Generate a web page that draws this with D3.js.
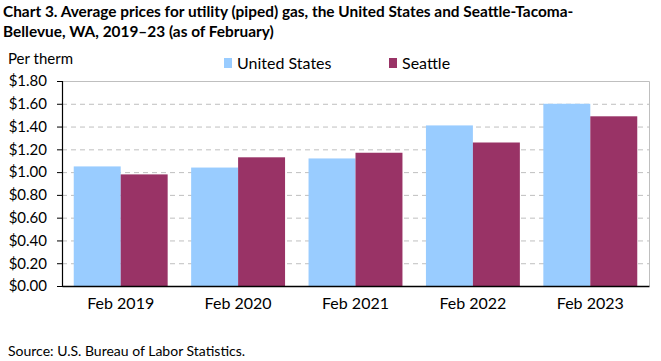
<!DOCTYPE html>
<html lang="en">
<head>
<meta charset="UTF-8">
<title>Chart 3</title>
<script src="https://d3js.org/d3.v7.min.js"></script>
<style>
    body { margin: 0; background: #fff; }
    svg { display: block; font-family: Lato, "Open Sans", sans-serif; }
    .grid line { stroke: #bfbfbf; stroke-dasharray: 5 4; }
</style>
</head>
<body>
<svg id="chart"></svg>
<script>
    // Data
    const categories = ["Feb 2019", "Feb 2020", "Feb 2021", "Feb 2022", "Feb 2023"];
    const seriesNames = ["United States", "Seattle"];
    const unitedStates = [1.05, 1.04, 1.12, 1.41, 1.60];
    const seattle = [0.98, 1.13, 1.17, 1.26, 1.49];
    const yTicks = [0, 0.2, 0.4, 0.6, 0.8, 1.0, 1.2, 1.4, 1.6, 1.8];
    const colors = ["#99ccff", "#993366"];

    const width = 661, height = 361;
    const margin = { top: 81, right: 12, bottom: 75, left: 62 };
    const innerW = width - margin.left - margin.right;
    const innerH = height - margin.top - margin.bottom;

    const svg = d3.select("#chart").attr("width", width).attr("height", height);

    // Title
    const title = svg.append("text")
        .attr("font-size", 15.4).attr("font-weight", "bold").attr("fill", "#000");
    title.append("tspan").attr("x", 3).attr("y", 17)
        .text("Chart 3. Average prices for utility (piped) gas, the United States and Seattle-Tacoma-");
    title.append("tspan").attr("x", 3).attr("y", 37)
        .text("Bellevue, WA, 2019\u201323 (as of February)");

    svg.append("text").attr("x", 8).attr("y", 64)
        .attr("font-size", 15).text("Per therm");

    const g = svg.append("g").attr("transform", `translate(${margin.left},${margin.top})`);

    const x0 = d3.scaleBand().domain(categories).range([0, innerW]).paddingInner(0.2).paddingOuter(0.1);
    const x1 = d3.scaleBand().domain(seriesNames).range([0, x0.bandwidth()]);
    const y = d3.scaleLinear().domain([0, 1.8]).range([innerH, 0]);

    // gridlines
    g.append("g").attr("class", "grid")
        .selectAll("line").data(yTicks.slice(1, -1)).join("line")
        .attr("x1", 0).attr("x2", innerW)
        .attr("y1", d => y(d) + 0.5).attr("y2", d => y(d) + 0.5);

    // plot border (top and right)
    g.append("path")
        .attr("d", `M0,0.5H${innerW + 0.5}V${innerH}`)
        .attr("fill", "none").attr("stroke", "#bfbfbf");

    // bars
    const rows = categories.map((c, i) => ({ cat: c, vals: [unitedStates[i], seattle[i]] }));
    g.append("g").selectAll("g").data(rows).join("g")
        .attr("transform", d => `translate(${x0(d.cat)},0)`)
        .selectAll("rect").data(d => d.vals.map((v, j) => ({ name: seriesNames[j], v, j })))
        .join("rect")
        .attr("x", d => x1(d.name))
        .attr("width", x1.bandwidth())
        .attr("y", d => y(d.v))
        .attr("height", d => innerH - y(d.v))
        .attr("fill", d => colors[d.j]);

    // y axis
    const yAxis = g.append("g")
        .call(d3.axisLeft(y).tickValues(yTicks).tickFormat(d => "$" + d.toFixed(2)).tickSize(5).tickPadding(10));
    yAxis.select(".domain").attr("stroke", "#000").attr("stroke-width", 1.2);
    yAxis.selectAll("line").attr("stroke", "#000");
    yAxis.selectAll("text").attr("font-size", 15).attr("fill", "#000").attr("font-family", "Lato, sans-serif");

    // x axis
    const xAxis = g.append("g").attr("transform", `translate(0,${innerH})`)
        .call(d3.axisBottom(x0).tickSize(0).tickPadding(12));
    xAxis.select(".domain").attr("stroke", "#000").attr("stroke-width", 1.5);
    xAxis.selectAll("text").attr("font-size", 16).attr("fill", "#000").attr("font-family", "Lato, sans-serif");

    // legend
    const legendX = [224, 389];
    const legend = svg.append("g").selectAll("g").data(seriesNames).join("g")
        .attr("transform", (d, i) => `translate(${legendX[i]},58)`);
    legend.append("rect").attr("width", 8).attr("height", 10).attr("fill", (d, i) => colors[i]);
    legend.append("text").attr("x", 13).attr("y", 11).attr("font-size", 16).text(d => d);

    // source
    svg.append("text").attr("x", 8).attr("y", 356).attr("font-size", 14)
        .text("Source: U.S. Bureau of Labor Statistics.");
</script>
</body>
</html>
